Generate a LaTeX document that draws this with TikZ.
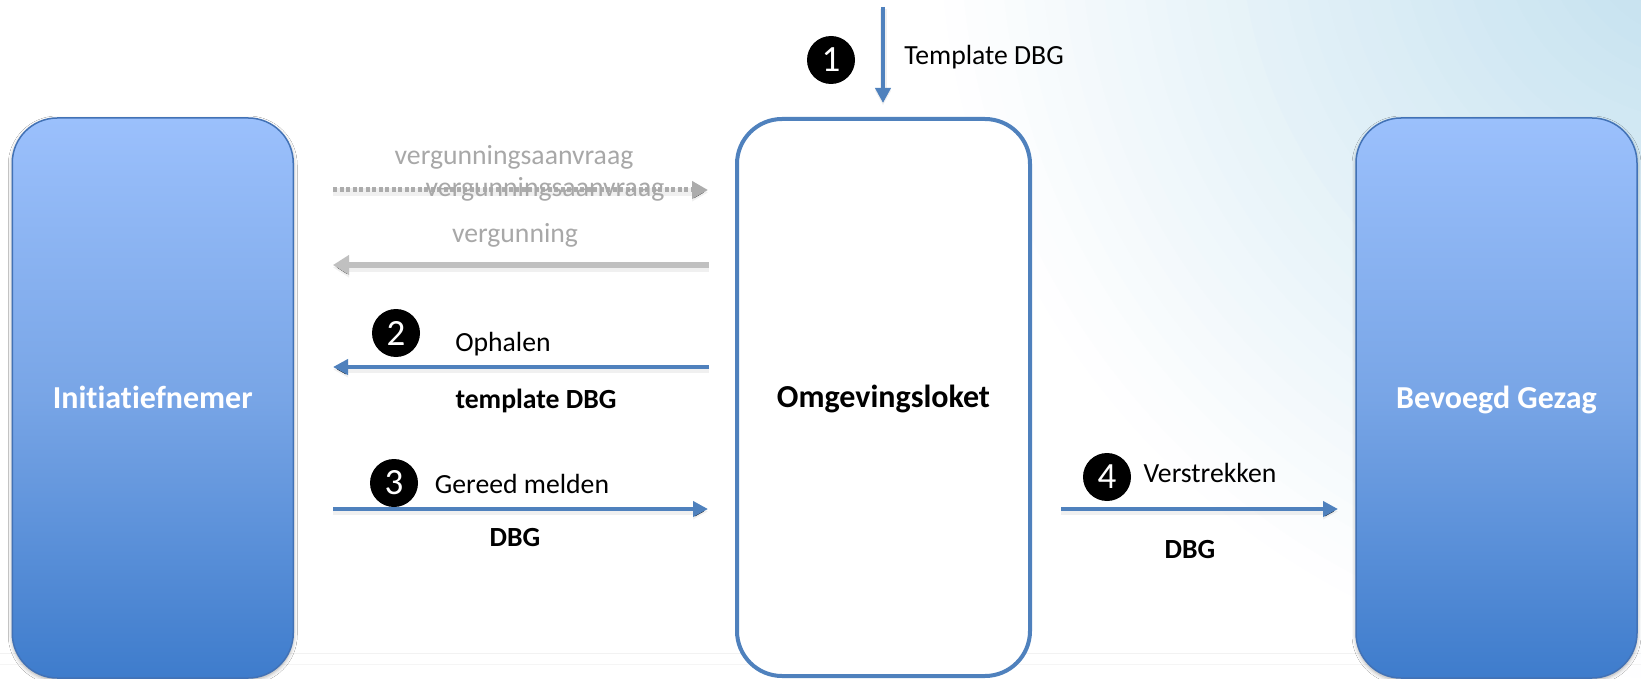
\documentclass[tikz,border=0pt]{standalone}
\usepackage{fontspec}
\setmainfont{Carlito}[Ligatures=NoCommon]
\usetikzlibrary{arrows.meta,shadows.blur}
\definecolor{arrowblue}{RGB}{79,129,189}
\definecolor{boxtop}{RGB}{155,192,252}
\definecolor{boxmid}{RGB}{120,165,230}
\definecolor{boxbot}{RGB}{62,124,204}
\definecolor{boxedge}{RGB}{66,114,182}
\definecolor{bgref}{RGB}{192,223,238}
\definecolor{greytext}{RGB}{168,168,168}
\definecolor{greyline}{RGB}{192,192,192}
\definecolor{greydash}{RGB}{172,172,172}
\begin{document}
\begin{tikzpicture}[x=1pt,y=-1pt,
  sidebox/.style={rounded corners=45pt, draw=boxedge, line width=1.5pt,
    top color=boxtop, bottom color=boxbot, middle color=boxmid,
    minimum width=281pt, minimum height=560pt, inner sep=0pt, text=white,
    font=\fontsize{32}{38}\selectfont\bfseries, text height=20.6pt, text depth=0pt,
    blur shadow={shadow xshift=0pt, shadow yshift=-2pt, shadow blur radius=4pt, shadow opacity=35}},
  midbox/.style={rounded corners=45pt, draw=arrowblue, line width=4pt, fill=white,
    minimum width=293pt, minimum height=557pt, inner sep=0pt, text=black,
    font=\fontsize{32}{38}\selectfont\bfseries, text height=20.6pt, text depth=0pt},
  lab/.style={font=\fontsize{27.7}{33}\selectfont, anchor=base, inner sep=0pt},
  boldlab/.style={lab, font=\fontsize{27.7}{33}\selectfont\bfseries},
  greylab/.style={lab, text=greytext},
  numc/.style={circle, fill=black, minimum size=48pt, inner sep=0pt, text=white,
    font=\fontsize{37}{40}\selectfont},
  shadowed/.style={preaction={draw=black, draw opacity=0.06, line width=#1,
      transform canvas={yshift=-2.5pt}}},
  bluearrow/.style={shadowed=7pt, draw=arrowblue, line width=4pt, -{Triangle[length=15pt,width=15pt]}},
  greyarrow/.style={shadowed=9pt, draw=greyline, line width=6pt, -{Triangle[length=16pt,width=19pt]}},
  greydasharrow/.style={shadowed=8pt, draw=greydash, line width=5pt, dash pattern=on 4pt off 2.5pt, -{Triangle[length=16pt,width=17pt]}}
]
\useasboundingbox (0,0) rectangle (1641,679);
\fill[white] (0,0) rectangle (1641,679);
\begin{scope}
  \clip (0,0) rectangle (1641,679);
  \foreach \i in {0,...,38} {
    \pgfmathtruncatemacro\pct{\i*100/38}
    \pgfmathsetmacro\rad{780-20*\i}
    \fill[bgref!\pct!white] (1700,-80) circle (\rad);
  }
\end{scope}
\draw[color=black!5, line width=1pt] (0,653) -- (1641,653);
\draw[color=black!4, line width=1pt] (0,664) -- (1641,664);

% boxes
\node[sidebox] (ini) at (152.75,398) {Initiatiefnemer};
\node[midbox] (olo) at (883.5,397.5) {Omgevingsloket};
\node[sidebox] (bg) at (1496.5,398) {Bevoegd Gezag};

% arrow 1
\coordinate (a1s) at (883,7);
\coordinate (a1e) at (883,103);
\draw[bluearrow] (a1s) -- (a1e);
\node[numc] (n1) at (831,60) {1};
\node[lab] (t1) at (984,65) {Template DBG};

% grey arrows
\coordinate (gds) at (333,190);
\coordinate (gde) at (708,190);
\draw[greydasharrow] (gds) -- (gde);
\node[greylab] (g1) at (514,165) {vergunningsaanvraag};
\node[greylab] (g2) at (545,197) {vergunningsaanvraag};
\coordinate (gss) at (709,265);
\coordinate (gse) at (333,265);
\draw[greyarrow] (gss) -- (gse);
\node[greylab] (g3) at (515,243) {vergunning};

% arrow 2
\coordinate (a2s) at (709,367);
\coordinate (a2e) at (333,367);
\draw[bluearrow] (a2s) -- (a2e);
\node[numc] (n2) at (396,333) {2};
\node[lab] (t2) at (503,351) {Ophalen};
\node[boldlab] (t2b) at (536,408) {template DBG};

% arrow 3
\coordinate (a3s) at (333,509);
\coordinate (a3e) at (708,509);
\draw[bluearrow] (a3s) -- (a3e);
\node[numc] (n3) at (394,483) {3};
\node[lab] (t3) at (522,493) {Gereed melden};
\node[boldlab] (t3b) at (515,546) {DBG};

% arrow 4
\coordinate (a4s) at (1061,509);
\coordinate (a4e) at (1338,509);
\draw[bluearrow] (a4s) -- (a4e);
\node[numc] (n4) at (1107,477) {4};
\node[lab] (t4) at (1210,482) {Verstrekken};
\node[boldlab] (t4b) at (1190,558) {DBG};
\end{tikzpicture}
\end{document}
